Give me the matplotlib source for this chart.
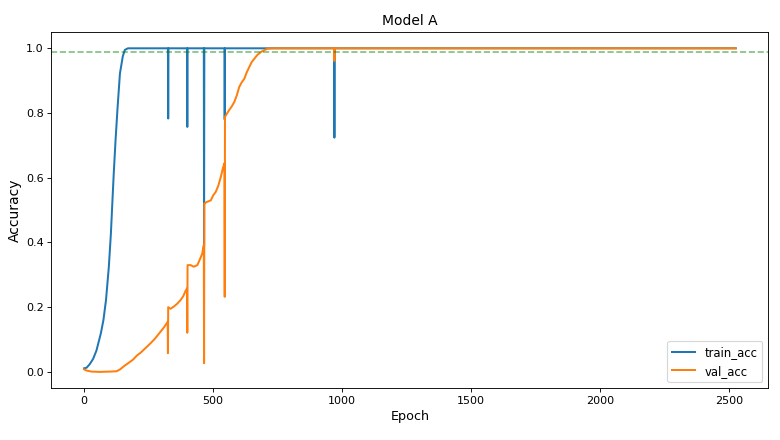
import matplotlib
matplotlib.use("Agg")
import matplotlib.pyplot as plt

# ---- data ----
train_epochs = [0, 10, 22, 35, 48, 65, 75, 85, 96, 104, 110, 115, 122, 130, 139, 150, 158, 170,
                325, 326, 327, 399, 400, 401, 464, 465, 466, 544, 545, 546, 969, 970, 971, 2525]
train_acc = [0.011, 0.013, 0.024, 0.04, 0.066, 0.119, 0.16, 0.222, 0.325, 0.428, 0.53, 0.613,
             0.716, 0.819, 0.922, 0.975, 0.995, 1.0,
             1.0, 0.783, 1.0, 1.0, 0.757, 1.0, 1.0, 0.39, 1.0, 1.0, 0.78, 1.0, 1.0, 0.724, 1.0, 1.0]

val_epochs = [0, 10, 29, 60, 100, 126, 140, 155, 171, 190, 204, 220, 240, 257, 275, 296, 310, 324,
              325, 326, 335, 348, 360, 374, 385, 393, 399,
              400, 401, 413, 425, 439, 450, 458, 464,
              465, 466, 475, 491, 500, 510, 520, 530, 538, 544,
              545, 546, 555, 562, 572, 582, 592, 601, 611, 621, 630, 640, 650, 660, 672, 686, 700,
              712, 730, 969, 970, 971, 2525]
val_acc = [0.008, 0.004, 0.001, 0.0, 0.001, 0.002, 0.008, 0.018, 0.027, 0.038, 0.05, 0.06, 0.075,
           0.088, 0.103, 0.124, 0.138, 0.155,
           0.058, 0.20, 0.195, 0.202, 0.21, 0.222, 0.235, 0.25, 0.258,
           0.121, 0.33, 0.33, 0.325, 0.33, 0.35, 0.366, 0.392,
           0.027, 0.52, 0.525, 0.53, 0.545, 0.556, 0.575, 0.603, 0.63, 0.645,
           0.232, 0.788, 0.80, 0.809, 0.82, 0.834, 0.855, 0.88, 0.895, 0.906, 0.925, 0.942, 0.958,
           0.968, 0.98, 0.989, 0.995, 0.999, 1.0, 1.0, 0.961, 1.0, 1.0]

target_acc = 0.99

fig, ax = plt.subplots(figsize=(9.75, 5.5), dpi=80)
fig.subplots_adjust(left=0.066, right=0.985, top=0.927, bottom=0.118)

ax.plot(train_epochs, train_acc, color="#1f77b4", linewidth=1.8, label="train_acc")
ax.plot(val_epochs, val_acc, color="#ff7f0e", linewidth=1.8, label="val_acc")
ax.axhline(target_acc, color="green", linestyle="--", linewidth=1.5, alpha=0.5)

ax.set_title("Model A", fontsize=12.5)
ax.set_xlabel("Epoch", fontsize=11.5)
ax.set_ylabel("Accuracy", fontsize=12.5)
ax.legend(loc="lower right", fontsize=10.5)

fig.savefig("out.png", dpi=80)
